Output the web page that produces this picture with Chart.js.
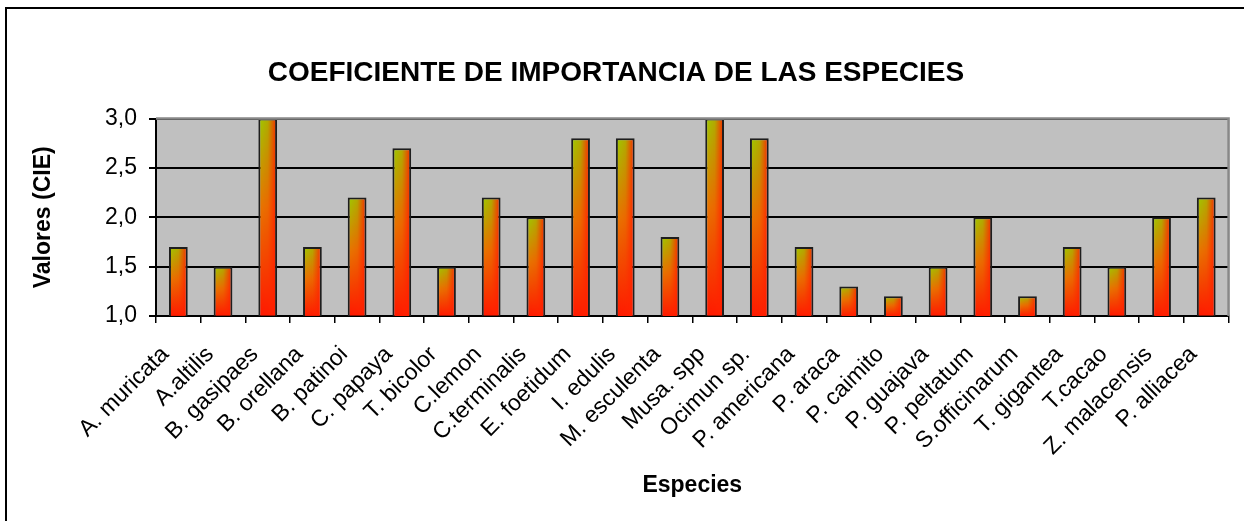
<!DOCTYPE html>
<html>
<head>
<meta charset="utf-8">
<script src="https://cdn.jsdelivr.net/npm/chart.js@4/dist/chart.umd.min.js"></script>
<style>
  html, body { margin: 0; padding: 0; background: #fff; }
  #wrap { width: 1244px; height: 521px; position: relative; }
</style>
</head>
<body>
<div id="wrap"><canvas id="cieChart"></canvas></div>
<script>
var especies = [
  'A. muricata', 'A.altilis', 'B. gasipaes', 'B. orellana', 'B. patinoi', 'C. papaya',
  'T. bicolor', 'C.lemon', 'C.terminalis', 'E. foetidum', 'I. edulis', 'M. esculenta',
  'Musa. spp', 'Ocimun sp.', 'P. americana', 'P. araca', 'P. caimito', 'P. guajava',
  'P. peltatum', 'S.officinarum', 'T. gigantea', 'T.cacao', 'Z. malacensis', 'P. alliacea'
];
var valoresCIE = [
  1.7, 1.5, 3.0, 1.7, 2.2, 2.7,
  1.5, 2.2, 2.0, 2.8, 2.8, 1.8,
  3.0, 2.8, 1.7, 1.3, 1.2, 1.5,
  2.0, 1.2, 1.7, 1.5, 2.0, 2.2
];
var yMin = 1.0;
var yMax = 3.0;
var yStep = 0.5;

var FONT = "'Liberation Sans', Arial, sans-serif";
var PLOT_BG = '#c0c0c0';
var BAR_PCT = 0.42;

Chart.defaults.font.family = FONT;
Chart.defaults.color = '#000';

// gradient like Excel "from corner": green top-left, red to the right and bottom
function barFill(ctx) {
  var chart = ctx.chart;
  var xs = chart.scales.x;
  var ys = chart.scales.y;
  if (!xs || !ys || ctx.raw == null) return '#ff3300';
  var cx = xs.getPixelForValue(ctx.dataIndex);
  var w = (xs.width / especies.length) * BAR_PCT;
  var top = ys.getPixelForValue(ctx.raw);
  var bottom = ys.getPixelForValue(yMin);
  if (!isFinite(cx) || !isFinite(w) || !isFinite(top) || !isFinite(bottom) || w < 1) return '#ff3300';
  var h = Math.max(2, Math.round(bottom - top));
  var cw = Math.max(2, Math.round(w));
  var off = document.createElement('canvas');
  off.width = cw;
  off.height = h;
  var o = off.getContext('2d');
  var vg = o.createLinearGradient(0, 0, 0, h);
  vg.addColorStop(0, '#9ccc00');
  vg.addColorStop(0.45, '#e67800');
  vg.addColorStop(1, '#ff1800');
  o.fillStyle = vg;
  o.fillRect(0, 0, cw, h);
  var hg = o.createLinearGradient(0, 0, cw, 0);
  hg.addColorStop(0, 'rgba(255,40,0,0)');
  hg.addColorStop(0.5, 'rgba(255,40,0,0.2)');
  hg.addColorStop(1, 'rgba(255,30,0,1)');
  o.fillStyle = hg;
  o.fillRect(0, 0, cw, h);
  var pat = chart.ctx.createPattern(off, 'no-repeat');
  pat.setTransform(new DOMMatrix().translate(cx - w / 2, top));
  return pat;
}

var frame = {
  id: 'frame',
  beforeDraw: function (chart) {
    var a = chart.chartArea;
    var c = chart.ctx;
    c.save();
    c.fillStyle = PLOT_BG;
    c.fillRect(a.left, a.top, a.right - a.left, a.bottom - a.top);
    c.strokeStyle = '#000';
    c.lineWidth = 2;
    c.strokeRect(6, 8, 1400, 700);
    c.restore();
  },
  afterDraw: function (chart) {
    var a = chart.chartArea;
    var c = chart.ctx;
    c.save();
    c.strokeStyle = '#888';
    c.lineWidth = 2.5;
    c.beginPath();
    c.moveTo(a.left, a.top);
    c.lineTo(a.right, a.top);
    c.lineTo(a.right, a.bottom);
    c.stroke();
    c.restore();
  }
};

new Chart(document.getElementById('cieChart'), {
  type: 'bar',
  data: {
    labels: especies,
    datasets: [{
      label: 'CIE',
      data: valoresCIE,
      backgroundColor: barFill,
      borderColor: '#1e1e1e',
      borderWidth: 2,
      borderSkipped: false,
      categoryPercentage: 1,
      barPercentage: BAR_PCT
    }]
  },
  options: {
    responsive: true,
    maintainAspectRatio: false,
    animation: false,
    layout: { padding: { left: 0, right: 12, top: 0, bottom: 0 } },
    plugins: {
      legend: { display: false },
      tooltip: { enabled: false },
      title: {
        display: true,
        text: 'COEFICIENTE DE IMPORTANCIA DE LAS ESPECIES',
        color: '#000',
        font: { size: 28, weight: 'bold' },
        padding: { top: 56, bottom: 29 }
      }
    },
    scales: {
      x: {
        grid: { display: true, drawOnChartArea: false, drawTicks: true, tickLength: 7, color: '#000', lineWidth: 1.5, offset: true },
        border: { display: true, color: '#000', width: 2 },
        ticks: { color: '#000', font: { size: 23 }, maxRotation: 45, minRotation: 45, autoSkip: false, padding: 18, labelOffset: -13 },
        title: { display: true, text: 'Especies', color: '#000', font: { size: 23, weight: 'bold' }, padding: { top: 4, bottom: 22 } },
        afterFit: function (s) { s.height = 205; }
      },
      y: {
        min: yMin,
        max: yMax,
        grid: { color: '#000', lineWidth: 2, tickLength: 7 },
        border: { display: true, color: '#000', width: 2 },
        ticks: {
          stepSize: yStep,
          color: '#000',
          font: { size: 23 },
          padding: 12,
          callback: function (v) { return v.toFixed(1).replace('.', ','); }
        },
        title: { display: true, text: 'Valores (CIE)', color: '#000', font: { size: 23, weight: 'bold' }, padding: { top: 30, bottom: 0 } },
        afterFit: function (s) { s.width = 156; }
      }
    }
  },
  plugins: [frame]
});
</script>
</body>
</html>
